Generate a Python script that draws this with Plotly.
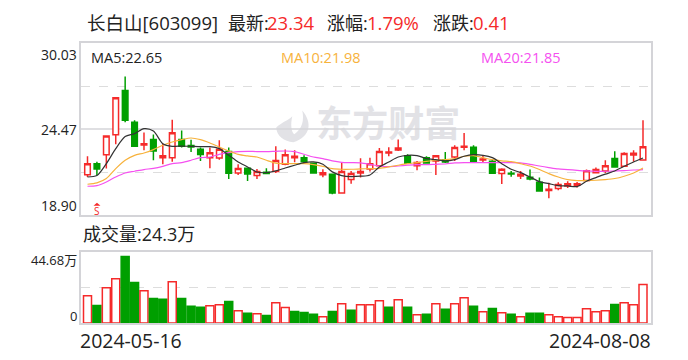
import pandas as pd
import plotly.graph_objects as go

dates = [d.strftime("%Y-%m-%d") for d in pd.bdate_range("2024-05-16", "2024-08-08") if d.strftime("%Y-%m-%d") != "2024-06-10"]

open_ = [21.52,22.23,22.81,24.10,26.96,24.90,23.44,23.80,22.62,22.62,23.80,23.41,23.16,22.62,22.60,23.01,21.63,21.93,21.46,21.67,21.72,
         22.19,22.62,22.62,22.25,21.52,21.55,20.34,21.20,21.63,21.89,22.10,22.92,23.12,22.75,22.10,22.62,22.41,22.49,22.66,23.29,
         23.29,22.47,22.38,21.59,21.61,21.44,21.35,21.03,20.49,20.62,20.79,20.84,21.14,21.65,21.76,22.56,22.06,22.79,22.47]
high = [22.71,22.36,24.02,26.49,27.87,25.03,24.25,24.12,23.52,25.07,24.38,23.78,23.27,23.27,23.74,23.27,22.19,21.93,21.89,21.93,23.35,
        23.14,23.09,22.77,22.25,21.87,21.55,22.32,21.76,22.58,22.62,23.24,23.29,23.80,22.84,22.41,22.71,22.75,22.99,23.42,24.21,
        23.42,22.77,22.53,21.93,21.76,21.76,21.85,21.33,20.99,21.03,21.09,21.05,21.85,21.98,22.45,23.03,22.97,23.09,25.03]
low = [21.37,21.48,21.91,23.48,24.90,23.31,23.09,22.45,22.19,22.36,23.27,22.99,22.40,21.93,22.49,21.24,21.50,21.11,21.24,21.54,21.63,
       22.13,22.32,22.23,21.63,21.35,20.25,20.34,20.94,21.33,21.72,22.06,22.71,23.05,22.23,21.80,22.23,21.50,22.28,22.41,23.09,
       22.32,22.32,21.57,20.92,21.39,21.24,21.16,20.47,20.00,20.51,20.66,20.69,21.09,21.59,21.63,22.02,22.02,22.36,22.47]
close = [22.23,21.89,24.02,26.49,25.03,23.35,23.52,23.05,22.75,24.23,23.35,23.31,22.83,22.94,23.16,21.61,21.91,21.57,21.72,21.59,22.43,
         22.81,22.71,22.36,21.63,21.65,20.34,21.72,21.59,21.72,22.23,23.01,22.99,23.24,22.25,22.30,22.28,22.75,22.34,23.27,23.35,
         22.38,22.53,21.61,21.87,21.57,21.55,21.24,20.47,20.58,20.88,20.94,20.94,21.78,21.85,22.10,22.02,22.88,22.90,23.33]
ma5 = [21.37,21.46,22.23,23.20,23.98,24.17,24.49,24.34,23.52,23.35,23.37,23.35,23.33,23.33,23.20,22.77,22.34,22.02,21.69,21.65,21.76,
       21.95,22.13,22.30,22.34,22.19,21.70,21.46,21.39,21.42,21.50,22.02,22.34,22.66,22.77,22.75,22.56,22.49,22.41,22.49,22.71,
       22.81,22.77,22.62,22.23,21.87,21.65,21.37,21.07,20.94,20.81,20.79,20.75,21.09,21.33,21.55,21.76,22.06,22.34,22.60]
ma10 = [20.90,20.99,21.27,21.91,22.45,22.77,22.92,23.14,23.42,23.63,23.78,23.89,23.78,23.57,23.31,23.05,22.83,22.73,22.66,22.45,22.27,
        22.23,22.23,22.23,22.17,22.06,21.91,21.87,21.87,21.89,21.91,21.93,22.02,22.13,22.23,22.30,22.38,22.45,22.49,22.56,22.71,
        22.75,22.62,22.49,22.41,22.36,22.23,22.08,21.85,21.59,21.37,21.20,21.14,21.14,21.16,21.20,21.27,21.42,21.63,21.95]
ma20 = [20.77,20.81,21.05,21.37,21.63,21.74,21.85,21.93,22.06,22.23,22.30,22.45,22.62,22.66,22.83,22.94,23.01,23.03,23.01,23.01,23.03,
        23.05,23.01,22.84,22.66,22.56,22.41,22.32,22.30,22.28,22.19,22.08,22.04,22.08,22.13,22.17,22.17,22.19,22.21,22.28,22.30,
        22.30,22.30,22.30,22.30,22.30,22.28,22.19,22.08,21.98,21.89,21.85,21.80,21.76,21.74,21.74,21.76,21.78,21.82,21.85]
volume = [17.2,11.1,22.2,27.9,42.0,25.6,20.4,15.5,14.9,26.0,15.5,10.5,9.9,10.9,11.5,13.6,7.8,6.1,5.9,4.8,12.8,9.7,7.3,6.7,5.5,4.0,7.3,12.2,8.0,11.5,11.5,
          14.1,9.9,14.7,9.9,5.2,5.5,12.2,8.6,12.2,15.9,10.5,7.1,9.2,6.5,5.5,4.0,6.1,6.1,5.2,4.0,3.4,3.4,9.0,7.1,7.8,11.7,12.8,11.5,24.3]
volume_up = [1,0,1,1,0,0,1,0,0,1,0,0,0,1,1,0,1,0,1,0,1,1,0,0,0,1,0,1,0,1,1,
             1,0,1,0,1,0,1,0,1,1,0,1,0,1,0,1,0,0,1,1,1,1,1,1,1,0,1,1,1]
price_top, price_mid, price_bottom = 30.03, 24.47, 18.90
volume_top = 44.68

RED = "#f52a2a"
GREEN = "#009f00"
FRAME = "#d4d4d8"
DASH = "#dddddd"
INK = "#222222"
FONT = "Open Sans, Noto Sans CJK SC, sans-serif"

L, R, T, B = 80.5, 651.0, 42.5, 323.0
W, H = 688, 360
px = lambda x: (x - L) / (R - L)
py = lambda y: (B - y) / (B - T)

fig = go.Figure()
fig.add_trace(go.Bar(x=dates, y=volume, xaxis="x2", yaxis="y2", showlegend=False,
                     marker=dict(color=["white" if u else GREEN for u in volume_up],
                                 line=dict(color=[RED if u else GREEN for u in volume_up], width=1.5))))
fig.add_trace(go.Candlestick(x=dates, open=open_, high=high, low=low, close=close, showlegend=False,
                             whiskerwidth=0,
                             increasing=dict(line=dict(color=RED, width=1.5), fillcolor="white"),
                             decreasing=dict(line=dict(color=GREEN, width=1.5), fillcolor=GREEN)))
for vals, col in [(ma20, "#f550f0"), (ma10, "#f7b23c"), (ma5, "#333333")]:
    fig.add_trace(go.Scatter(x=dates, y=vals, mode="lines", showlegend=False,
                             line=dict(color=col, width=1.2, shape="spline", smoothing=0.8)))

def text(x, y, s, color=INK, size=14, anchor="left", **kw):
    return dict(xref="paper", yref="paper", x=px(x), y=py(y), text=s, showarrow=False, xanchor=anchor,
                yanchor="middle", font=dict(family=FONT, size=size, color=color), **kw)

annotations = [
    text(85, 22, "长白山[603099]", size=18.5),
    text(226, 22, "最新:", size=18),
    text(265, 22, "23.34", RED, 18.5),
    text(325, 22, "涨幅:", size=18),
    text(365, 22, "1.79%", RED, 18.5),
    text(431, 22, "涨跌:", size=18),
    text(471, 22, "0.41", RED, 18.5),
    text(88.5, 57, "MA5:22.65", size=14.5),
    text(278.5, 57, "MA10:21.98", "#f7b23c", 14.5),
    text(479, 57, "MA20:21.85", "#f550f0", 14.5),
    text(78, 54, f"{price_top:.2f}", anchor="right", size=14),
    text(78, 129, f"{price_mid:.2f}", anchor="right", size=14),
    text(78, 205, f"{price_bottom:.2f}", anchor="right", size=14),
    text(80, 234, "成交量:24.3万", size=18),
    text(78, 260, f"{volume_top}万", anchor="right", size=13),
    text(78, 316, "0", anchor="right", size=13),
    text(77, 341, dates[0], size=19.5),
    text(653, 341, dates[-1], anchor="right", size=19.5),
    text(96.5, 210.5, "S", RED, 10, "center"),
]

wm = "#e2e2e6"
shapes = [
    dict(type="rect", xref="paper", yref="paper", x0=px(316), x1=px(460), y0=py(146), y1=py(108),
         line=dict(width=0), layer="below",
         label=dict(text="<b>东方财富</b>", font=dict(family="Noto Sans CJK SC", size=36, color=wm),
                    textposition="middle center")),
    dict(type="path", xref="paper", yref="paper", layer="below", line=dict(width=0), fillcolor=wm,
         path=(f"M {px(302)} {py(110)} C {px(312)} {py(122)} {px(311)} {py(136)} {px(293)} {py(142)} "
               f"C {px(284)} {py(141)} {px(276)} {py(136)} {px(276)} {py(127)} "
               f"C {px(282)} {py(122)} {px(288)} {py(120)} {px(292)} {py(116)} "
               f"C {px(290)} {py(124)} {px(291)} {py(132)} {px(294)} {py(134)} "
               f"C {px(302)} {py(128)} {px(304)} {py(120)} {px(302)} {py(110)} Z")),
    dict(type="path", xref="paper", yref="paper", line=dict(width=0), fillcolor=RED,
         path=(f"M {px(96.5)} {py(202.5)} L {px(100)} {py(205.5)} L {px(93)} {py(205.5)} Z")),
    dict(type="line", xref="paper", yref="y", x0=0, x1=1, y0=price_mid, y1=price_mid,
         line=dict(color=FRAME, width=1.5), layer="below"),
]

axis_common = dict(showline=True, linecolor=FRAME, linewidth=1.5, mirror=True, zeroline=False, ticks="")
fig.update_layout(
    width=W, height=H, autosize=False, paper_bgcolor="white", plot_bgcolor="white",
    margin=dict(l=L, r=W - R, t=T, b=H - B), bargap=0.15, boxgap=0.15, barmode="overlay",
    xaxis=dict(domain=[0, 1], anchor="y", type="category", range=[-0.69, 59.85], showgrid=False,
               showticklabels=False, rangeslider=dict(visible=False), **axis_common),
    yaxis=dict(domain=[py(215), 1], range=[price_bottom, price_top], tickvals=[21.68, 27.25], showticklabels=False,
               showgrid=True, gridcolor=DASH, griddash="dash", gridwidth=1.3, **axis_common),
    xaxis2=dict(domain=[0, 1], anchor="y2", type="category", range=[-0.69, 59.85], showgrid=False,
                showticklabels=False, **axis_common),
    yaxis2=dict(domain=[0, py(252)], range=[0, volume_top], tickvals=[volume_top / 2], showticklabels=False,
                showgrid=True, gridcolor=DASH, griddash="dash", gridwidth=1.3, **axis_common),
    annotations=annotations, shapes=shapes,
)
fig.write_html("out.html", config={"displayModeBar": False},
               post_script="document.documentElement.style.margin='0';document.body.style.margin='0';document.body.style.overflow='hidden';")
